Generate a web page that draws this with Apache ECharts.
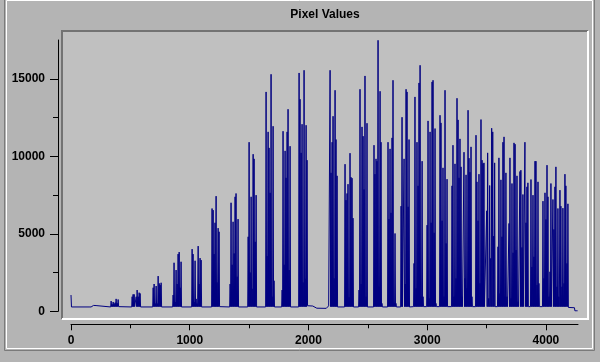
<!DOCTYPE html>
<html>
<head>
<meta charset="utf-8">
<script src="https://cdn.jsdelivr.net/npm/echarts@6/dist/echarts.min.js"></script>
<style>
html,body{margin:0;padding:0;background:#b4b4b4;}
#chart{width:600px;height:362px;}
</style>
</head>
<body>
<div id="chart"></div>
<script>
// ---- data: [pixel value bin, count] ----
const counts0to1000 = [
[0,1050],[4,280],
[152,280],[156,380],[160,280],[165,380],[169,280],[177,380],[181,280],[190,380],[194,280],[202,380],[206,280],[211,370],[215,280],
[334,280],[338,660],[342,300],[346,450],[350,300],[355,600],[359,300],[363,500],[367,300],[372,560],[376,300],[380,800],[384,300],[389,520],[393,300],[397,760],[401,300],[405,400],[409,280],
[511,280],[515,940],[519,300],[523,1090],[527,300],[532,1090],[536,300],[540,400],[544,300],[549,940],[553,300],[557,1370],[561,300],[566,940],[570,300],[574,1200],[578,300],[582,1150],[586,280],
[688,280],[692,1520],[696,300],[700,1760],[704,300],[709,500],[713,300],[717,1630],[721,300],[726,500],[730,300],[734,2270],[738,300],[743,1800],[747,300],[751,1690],[755,300],[759,1840],[763,280],
[856,280],[860,1050],[864,300],[868,3130],[872,300],[877,600],[881,300],[885,2660],[889,300],[894,1760],[898,300],[902,3690],[906,300],[911,3820],[915,300],[919,1520],[923,300],[927,3195],[931,280]
];
const counts1000to2000 = [
[1016,280],[1020,4010],[1024,300],[1028,3690],[1032,300],[1037,600],[1041,300],[1045,3260],[1049,300],[1054,800],[1058,300],[1062,500],[1066,300],[1071,4205],[1075,300],[1079,1757],[1083,300],[1087,3430],[1091,300],[1096,3300],[1100,280],
[1184,280],[1188,6630],[1192,300],[1197,6525],[1201,300],[1205,3690],[1209,300],[1213,5710],[1217,300],[1222,7427],[1226,300],[1230,1860],[1234,300],[1239,5365],[1243,300],[1247,5130],[1251,300],[1256,350],[1260,280],
[1336,280],[1340,1757],[1344,300],[1348,7000],[1352,300],[1357,3000],[1361,300],[1365,5773],[1369,300],[1374,3730],[1378,300],[1382,7384],[1386,300],[1390,7600],[1394,300],[1399,2230],[1403,300],[1407,5945],[1411,280],
[1488,280],[1492,4806],[1496,300],[1500,10907],[1504,300],[1509,2500],[1513,300],[1517,7384],[1521,300],[1526,1450],[1530,300],[1534,10133],[1538,300],[1542,9833],[1546,300],[1551,4480],[1555,300],[1559,7491],[1563,280],
[1639,280],[1643,14150],[1647,300],[1651,3560],[1655,300],[1660,11573],[1664,300],[1668,10541],[1672,300],[1677,7640],[1681,300],[1685,15288],[1689,300],[1694,940],[1698,300],[1702,11937],[1706,300],[1710,1970],[1714,280],
[1774,280],[1778,1370],[1782,300],[1786,11616],[1790,300],[1795,3000],[1799,300],[1803,10348],[1807,300],[1811,8608],[1815,300],[1820,11573],[1824,300],[1828,13033],[1832,300],[1837,2660],[1841,300],[1845,10649],[1849,280],
[1917,280],[1921,15374],[1925,300],[1929,13678],[1933,300],[1938,10219],[1942,300],[1946,12067],[1950,300],[1955,1860],[1959,300],[1963,15547],[1967,300],[1971,2100],[1975,300],[1980,12002],[1984,300],[1988,9747],[1992,360]
];
const counts2000to3000 = [
[2036,340],[2070,200],[2150,190],[2170,350],
[2178,350],[2182,15547],[2186,300],[2190,8931],[2194,300],[2199,10907],[2203,300],[2207,12582],[2211,300],[2216,2120],[2220,300],[2224,14258],[2228,300],[2232,11079],[2236,300],[2241,8738],[2245,280],
[2304,280],[2308,9489],[2312,300],[2316,7169],[2320,300],[2325,7600],[2329,300],[2333,8200],[2337,300],[2342,900],[2346,300],[2350,10198],[2354,300],[2358,8650],[2362,300],[2367,8587],[2371,300],[2375,6010],[2379,280],
[2422,280],[2426,1370],[2430,300],[2434,14322],[2438,300],[2443,1760],[2447,300],[2451,11895],[2455,300],[2460,11294],[2464,300],[2468,7857],[2472,300],[2476,15181],[2480,300],[2485,940],[2489,300],[2493,12131],[2497,280],
[2548,280],[2552,10713],[2556,300],[2560,8845],[2564,300],[2569,9833],[2573,300],[2577,9682],[2581,300],[2586,17480],[2590,300],[2594,1580],[2598,300],[2603,14193],[2607,300],[2611,10907],[2615,300],[2619,510],[2623,280],
[2666,280],[2670,10907],[2674,300],[2678,5945],[2682,300],[2687,10477],[2691,300],[2695,6350],[2699,300],[2704,11186],[2708,300],[2712,14902],[2716,300],[2721,550],[2725,300],[2729,5021],[2733,300],[2737,510],[2741,280],
[2776,280],[2780,6783],[2784,300],[2788,12518],[2792,300],[2797,200],[2801,300],[2805,9833],[2809,300],[2814,1757],[2818,300],[2822,14322],[2826,300],[2830,14150],[2834,300],[2839,6740],[2843,300],[2847,11079],[2851,280],
[2885,300],[2889,3088],[2893,300],[2897,13828],[2901,300],[2906,1480],[2910,300],[2914,10907],[2918,300],[2923,8093],[2927,300],[2931,14730],[2935,300],[2940,15869],[2944,300],[2948,940],[2952,300],[2957,9682],[2961,300],[2965,940],[2969,300]
];
const counts3000to4270 = [
[2995,300],[2999,5558],[3003,300],[3007,12281],[3011,300],[3016,830],[3020,300],[3024,11573],[3028,300],[3033,5710],[3037,300],[3041,14795],[3045,300],[3049,14902],[3053,300],[3058,5064],[3062,300],[3066,11788],[3070,300],[3074,510],[3078,300],
[3104,300],[3108,12646],[3112,300],[3116,12152],[3120,300],[3125,5837],[3129,300],[3133,9253],[3137,300],[3142,940],[3146,300],[3150,14258],[3154,300],[3159,4377],[3163,300],[3167,8522],[3171,300],[3175,400],[3179,300],
[3205,300],[3209,8093],[3213,300],[3217,10713],[3221,300],[3226,940],[3230,300],[3234,9511],[3238,300],[3243,2120],[3247,300],[3251,13742],[3255,300],[3260,12346],[3264,300],[3268,8608],[3272,300],[3276,11122],[3280,300],[3285,9317],[3289,300],[3293,940],[3297,300],
[3306,300],[3310,10262],[3314,300],[3318,2120],[3322,300],[3327,8802],[3331,300],[3335,1480],[3339,300],[3344,12969],[3348,300],[3352,9876],[3356,300],[3360,8974],[3364,300],[3369,10606],[3373,300],[3377,940],[3381,300],
[3407,300],[3411,11358],[3415,300],[3419,8350],[3423,300],[3428,5837],[3432,300],[3436,8845],[3440,300],[3445,1800],[3449,300],[3453,12368],[3457,300],[3462,9747],[3466,300],[3470,9532],[3474,300],[3478,9575],[3482,300],
[3497,300],[3501,6482],[3505,300],[3509,10219],[3513,300],[3518,830],[3522,300],[3526,8114],[3530,300],[3535,3410],[3539,300],[3543,11809],[3547,300],[3552,11573],[3556,300],[3560,4849],[3564,300],[3568,9575],[3572,300],[3577,400],[3581,300],
[3592,300],[3596,4162],[3600,300],[3604,9897],[3608,300],[3613,1150],[3617,300],[3621,8479],[3625,300],[3630,4806],[3634,300],[3638,10907],[3642,300],[3647,11251],[3651,300],[3655,940],[3659,300],[3663,8931],[3667,300],[3672,940],[3676,300],
[3685,300],[3689,5666],[3693,300],[3697,9897],[3701,300],[3706,830],[3710,300],[3714,8243],[3718,300],[3723,3775],[3727,300],[3731,10864],[3735,300],[3740,10778],[3744,300],[3748,3950],[3752,300],[3756,8738],[3760,300],[3765,620],[3769,300],
[3777,300],[3781,9016],[3785,300],[3789,9102],[3793,300],[3798,4118],[3802,300],[3806,7534],[3810,300],[3815,400],[3819,300],[3823,10907],[3827,300],[3832,5710],[3836,300],[3840,8028],[3844,300],[3848,8286],[3852,300],[3857,400],[3861,300],
[3870,300],[3874,8500],[3878,300],[3882,2860],[3886,300],[3891,7491],[3895,300],[3899,3515],[3903,300],[3908,9682],[3912,300],[3916,9682],[3920,300],[3925,1690],[3929,300],[3933,8350],[3937,300],[3941,1800],[3945,300],
[3971,300],[3975,7105],[3979,300],[3983,2120],[3987,300],[3992,7642],[3996,300],[4000,5923],[4004,300],[4009,9425],[4013,300],[4017,7384],[4021,300],[4025,940],[4029,300],[4034,2550],[4038,300],[4042,8243],[4046,300],
[4055,300],[4059,7212],[4063,300],[4067,5279],[4071,300],[4076,8028],[4080,300],[4084,9317],[4088,300],[4093,1580],[4097,300],[4101,6632],[4105,300],[4109,940],[4113,300],[4118,7814],[4122,300],[4126,6783],[4130,300],[4135,1580],[4139,300],
[4143,6654],[4147,300],[4152,1800],[4156,300],[4160,8845],[4164,300],[4168,8093],[4172,300],[4177,3088],[4181,300],[4185,6933],[4189,250],
[4240,230],[4244,30],[4267,30]
];

const titleText = 'Pixel Values';
const xMajorTicks = [0, 1000, 2000, 3000, 4000];
const xMinorTicks = [500, 1500, 2500, 3500];
const yMajorTicks = [0, 5000, 10000, 15000];
const yMinorTicks = [2500, 7500, 12500];
const xMax = 4270;
const yMax = 17500;

const seriesData = [].concat(counts0to1000, counts1000to2000, counts2000to3000, counts3000to4270);

const chart = echarts.init(document.getElementById('chart'), null, {renderer: 'canvas'});
const labelFont = {color: '#000', fontFamily: '"Liberation Sans", Arial, sans-serif', fontWeight: 'bold', fontSize: 12, formatter: function (v) { return String(v); }};
const black = {color: '#000', width: 1};

chart.setOption({
  animation: false,
  backgroundColor: '#b4b4b4',
  graphic: [
    {type: 'rect', z: -10, shape: {x: 4.5, y: -2, width: 590, height: 352.5}, style: {fill: 'none', stroke: '#7a7a7a', lineWidth: 1}},
    {type: 'rect', z: -10, shape: {x: 6.5, y: 0.5, width: 586, height: 348}, style: {fill: 'none', stroke: '#ffffff', lineWidth: 1}},
    {type: 'rect', z: -9, shape: {x: 61, y: 30, width: 528, height: 290}, style: {fill: '#c0c0c0'}},
    {type: 'polyline', z: -8, shape: {points: [[62, 319], [62, 31], [588, 31]]}, style: {stroke: '#737373', lineWidth: 2, fill: 'none'}},
    {type: 'polyline', z: -8, shape: {points: [[62, 319], [588, 319], [588, 31]]}, style: {stroke: '#ffffff', lineWidth: 2, fill: 'none'}},
    {type: 'text', z: 5, x: 325, y: 15, style: {text: titleText, fill: '#000', font: 'bold 12px "Liberation Sans", Arial, sans-serif', textAlign: 'center', textVerticalAlign: 'middle'}}
  ],
  grid: {left: 71, right: 22, top: 40, bottom: 50.7, containLabel: false},
  xAxis: [
    {type: 'value', min: 0, max: xMax, position: 'bottom', offset: 13,
     axisLine: {show: true, onZero: false, lineStyle: black},
     axisTick: {show: true, length: 6, lineStyle: black, customValues: xMajorTicks},
     axisLabel: Object.assign({show: true, margin: 10, customValues: xMajorTicks}, labelFont),
     splitLine: {show: false}},
    {type: 'value', min: 0, max: xMax, position: 'bottom', offset: 13,
     axisLine: {show: false, onZero: false},
     axisTick: {show: true, length: 4, lineStyle: black, customValues: xMinorTicks},
     axisLabel: {show: false}, splitLine: {show: false}}
  ],
  yAxis: [
    {type: 'value', min: 0, max: yMax, position: 'left', offset: 13,
     axisLine: {show: true, onZero: false, lineStyle: black},
     axisTick: {show: true, length: 8, lineStyle: black, customValues: yMajorTicks},
     axisLabel: Object.assign({show: true, margin: 13, customValues: yMajorTicks}, labelFont),
     splitLine: {show: false}},
    {type: 'value', min: 0, max: yMax, position: 'left', offset: 13,
     axisLine: {show: false, onZero: false},
     axisTick: {show: true, length: 5, lineStyle: black, customValues: yMinorTicks},
     axisLabel: {show: false}, splitLine: {show: false}}
  ],
  series: [{
    type: 'line', xAxisIndex: 0, yAxisIndex: 0,
    data: seriesData, showSymbol: false, symbol: 'none',
    lineStyle: {color: '#000080', width: 1}, itemStyle: {color: '#000080'},
    silent: true, clip: true
  }]
});
</script>
</body>
</html>
